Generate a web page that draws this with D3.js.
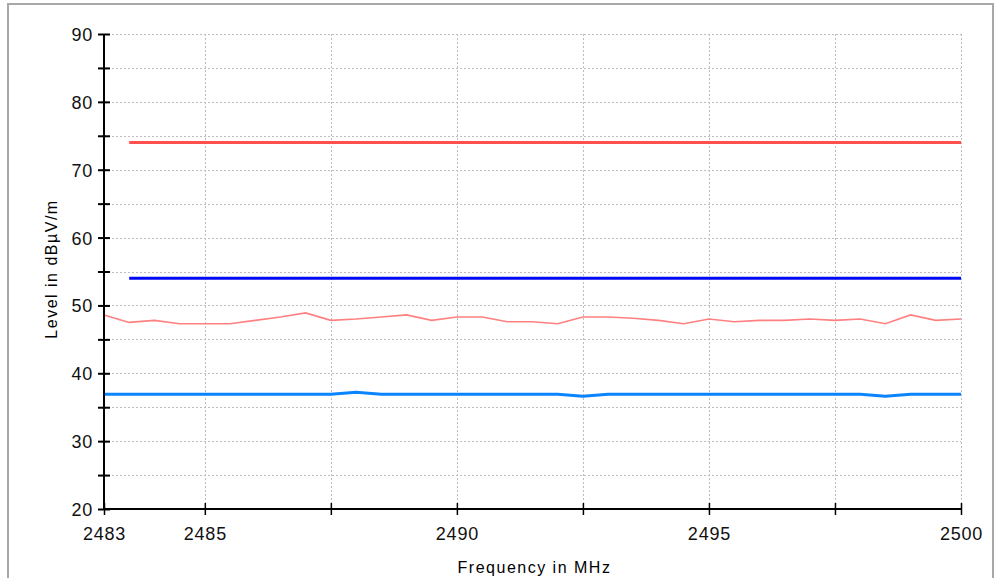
<!DOCTYPE html>
<html>
<head>
<meta charset="utf-8">
<script src="https://cdn.jsdelivr.net/npm/d3@7"></script>
<style>
  html, body { margin: 0; padding: 0; background: #fff; }
  svg { display: block; }
  .tick-label { font-family: "Liberation Sans", Arial, sans-serif; font-size: 18px; letter-spacing: 0.8px; fill: #111; }
  .title { font-family: "Liberation Sans", Arial, sans-serif; font-size: 16px; letter-spacing: 1.5px; fill: #000; }
</style>
</head>
<body>
<script>
// ---- data ----
const freqs = [2483, 2483.5, 2484, 2484.5, 2485, 2485.5, 2486, 2486.5, 2487, 2487.5,
  2488, 2488.5, 2489, 2489.5, 2490, 2490.5, 2491, 2491.5, 2492, 2492.5,
  2493, 2493.5, 2494, 2494.5, 2495, 2495.5, 2496, 2496.5, 2497, 2497.5,
  2498, 2498.5, 2499, 2499.5, 2500];
const peakValues = [48.6, 47.5, 47.8, 47.3, 47.3, 47.3, 47.8, 48.3, 48.9, 47.8,
  48.0, 48.3, 48.6, 47.8, 48.3, 48.3, 47.6, 47.6, 47.3, 48.3,
  48.3, 48.1, 47.8, 47.3, 48.0, 47.6, 47.8, 47.8, 48.0, 47.8,
  48.0, 47.3, 48.6, 47.8, 48.0];
const avgValues = [36.9, 36.9, 36.9, 36.9, 36.9, 36.9, 36.9, 36.9, 36.9, 36.9,
  37.2, 36.9, 36.9, 36.9, 36.9, 36.9, 36.9, 36.9, 36.9, 36.6,
  36.9, 36.9, 36.9, 36.9, 36.9, 36.9, 36.9, 36.9, 36.9, 36.9,
  36.9, 36.6, 36.9, 36.9, 36.9];
const peakLimit = { from: 2483.5, to: 2500, value: 74 };
const avgLimit = { from: 2483.5, to: 2500, value: 54 };
const xTicks = [2483, 2485, 2487.5, 2490, 2492.5, 2495, 2497.5, 2500];
const xLabels = [2483, 2485, 2490, 2495, 2500];
const xGrid = [2485, 2487.5, 2490, 2492.5, 2495, 2497.5, 2500];
const yTicks = [20, 25, 30, 35, 40, 45, 50, 55, 60, 65, 70, 75, 80, 85, 90];
const yLabels = [20, 30, 40, 50, 60, 70, 80, 90];
const xTitle = "Frequency in MHz";
const yTitle = "Level in dBµV/m";

(function () {
// ---- layout ----
const W = 994, H = 578;
const pL = 104, pR = 961, pT = 34, pB = 509;

const svg = d3.select("body").append("svg").attr("width", W).attr("height", H);

// frame
svg.append("rect").attr("x", 8).attr("y", 4).attr("width", 985).attr("height", 620)
  .attr("fill", "#fff").attr("stroke", "#a8a8a8").attr("stroke-width", 2);

const x = d3.scaleLinear().domain([2483, 2500]).range([pL, pR]);
const y = d3.scaleLinear().domain([20, 90]).range([pB, pT]);

// grid
const grid = svg.append("g").attr("stroke", "#bdbdbd").attr("stroke-width", 1.2).attr("stroke-dasharray", "2,2").attr("shape-rendering", "crispEdges");
grid.selectAll(".gy").data(yTicks.filter(d => d > 20)).join("line")
  .attr("x1", pL).attr("x2", pR)
  .attr("y1", d => Math.round(y(d)) + 0.5).attr("y2", d => Math.round(y(d)) + 0.5);
grid.selectAll(".gx").data(xGrid).join("line")
  .attr("y1", pT).attr("y2", pB)
  .attr("x1", d => Math.round(x(d)) + 0.5).attr("x2", d => Math.round(x(d)) + 0.5);

// limit lines
const limits = [[peakLimit, "#ff4f4f"], [avgLimit, "#0008f5"]];
limits.forEach(([L, c]) => {
  svg.append("line")
    .attr("x1", x(L.from)).attr("x2", x(L.to))
    .attr("y1", y(L.value)).attr("y2", y(L.value))
    .attr("stroke", c).attr("stroke-width", 3);
});

// traces
const line = d3.line().x(d => x(d[0])).y(d => y(d[1]));
svg.append("path").datum(freqs.map((f, i) => [f, peakValues[i]]))
  .attr("d", line).attr("fill", "none").attr("stroke", "#ff8080").attr("stroke-width", 1.6);
svg.append("path").datum(freqs.map((f, i) => [f, avgValues[i]]))
  .attr("d", line).attr("fill", "none").attr("stroke", "#0a84ff").attr("stroke-width", 3);

// axes
const yAxis = d3.axisLeft(y).tickValues(yTicks).tickSizeInner(6).tickSizeOuter(0)
  .tickFormat(d => yLabels.includes(d) ? d : "");
const yg = svg.append("g").attr("transform", `translate(${pL},0)`).call(yAxis);
yg.select(".domain").remove();
yg.attr("font-size", null).attr("font-family", null);
yg.selectAll(".tick line").attr("x1", -6).attr("x2", 6).attr("stroke", "#000").attr("stroke-width", 2);
yg.selectAll(".tick text").attr("class", "tick-label").attr("x", -11).attr("dy", "0.36em");

const xAxis = d3.axisBottom(x).tickValues(xTicks).tickSizeInner(6).tickSizeOuter(0)
  .tickFormat(d => xLabels.includes(d) ? d : "");
const xg = svg.append("g").attr("transform", `translate(0,${pB})`).call(xAxis);
xg.select(".domain").remove();
xg.attr("font-size", null).attr("font-family", null);
xg.selectAll(".tick line").attr("y1", -6).attr("y2", 6).attr("stroke", "#000").attr("stroke-width", 1.5);
xg.selectAll(".tick text").attr("class", "tick-label").attr("y", 18).attr("dy", "0.71em");

// axis lines
svg.append("line").attr("x1", pL).attr("x2", pL).attr("y1", pT).attr("y2", pB + 1)
  .attr("stroke", "#000").attr("stroke-width", 2);
svg.append("line").attr("x1", pL - 1).attr("x2", pR).attr("y1", pB).attr("y2", pB)
  .attr("stroke", "#000").attr("stroke-width", 2);

// titles
svg.append("text").attr("class", "title").attr("x", (pL + pR) / 2 + 2).attr("y", 573)
  .attr("text-anchor", "middle").text(xTitle);
svg.append("text").attr("class", "title")
  .attr("transform", `translate(57,269) rotate(-90)`)
  .attr("text-anchor", "middle").text(yTitle);
})();
</script>
</body>
</html>
